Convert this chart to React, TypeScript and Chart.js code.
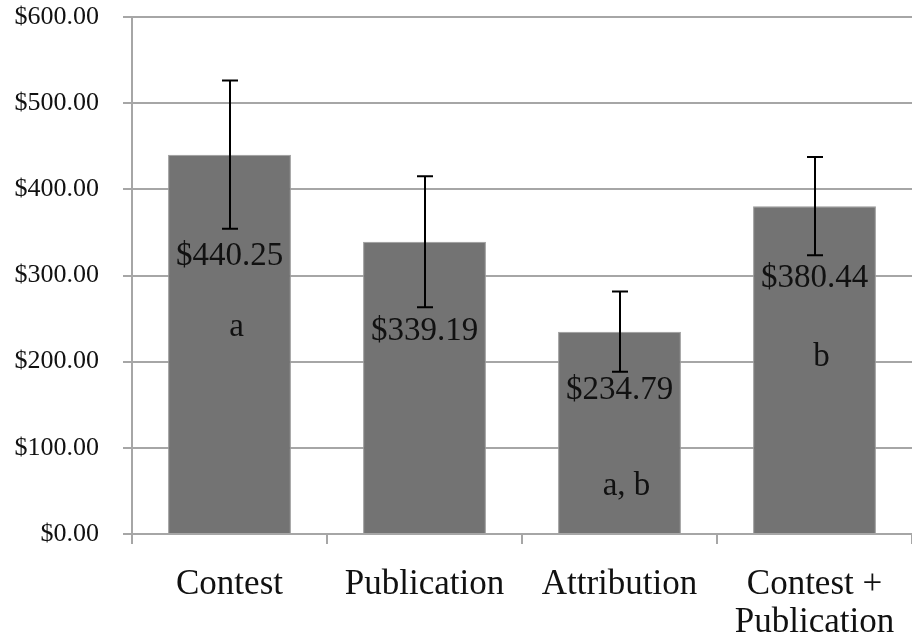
import React, { useEffect, useRef } from 'react';
import { Chart, registerables } from 'chart.js';

Chart.register(...registerables);

const categories: (string | string[])[] = ['Contest', 'Publication', 'Attribution', ['Contest +', 'Publication']];
const meanValues = [440.25, 339.19, 234.79, 380.44];
const errorMargins = [86, 76, 46.5, 57];
const valueLabels = ['$440.25', '$339.19', '$234.79', '$380.44'];
const groupLetters = ['a', '', 'a, b', 'b'];
const yMin = 0;
const yMax = 600;
const yStep = 100;

const FONT = '"Liberation Serif", "Times New Roman", serif';

const annotationPlugin = {
  id: 'barAnnotations',
  afterDatasetsDraw(chart: any, _args: any, opts: any) {
    const { ctx, scales } = chart;
    const y = scales.y;
    const meta = chart.getDatasetMeta(0);
    ctx.save();
    // error bars
    ctx.strokeStyle = '#000';
    ctx.lineWidth = 2;
    meta.data.forEach((bar: any, i: number) => {
      const x = Math.round(bar.x);
      const top = y.getPixelForValue(meanValues[i] + errorMargins[i]);
      const bot = y.getPixelForValue(meanValues[i] - errorMargins[i]);
      const cap = opts.capHalfWidth;
      ctx.beginPath();
      ctx.moveTo(x, top);
      ctx.lineTo(x, bot);
      ctx.moveTo(x - cap, top);
      ctx.lineTo(x + cap, top);
      ctx.moveTo(x - cap, bot);
      ctx.lineTo(x + cap, bot);
      ctx.stroke();
    });
    // value labels
    ctx.fillStyle = '#111';
    ctx.textAlign = 'center';
    ctx.textBaseline = 'middle';
    ctx.font = `${opts.valueFontSize}px ${FONT}`;
    meta.data.forEach((bar: any, i: number) => {
      ctx.fillText(valueLabels[i], bar.x, y.getPixelForValue(opts.valueLabelAt[i]));
    });
    ctx.font = `${opts.letterFontSize}px ${FONT}`;
    meta.data.forEach((bar: any, i: number) => {
      if (!groupLetters[i]) return;
      ctx.fillText(groupLetters[i], bar.x + opts.letterShift, y.getPixelForValue(opts.letterAt[i]));
    });
    ctx.restore();
  },
};

export default function App() {
  const canvasRef = useRef<HTMLCanvasElement | null>(null);

  useEffect(() => {
    if (!canvasRef.current) return;
    const chart = new Chart(canvasRef.current, {
      type: 'bar',
      data: {
        labels: categories as any,
        datasets: [
          {
            data: meanValues,
            backgroundColor: '#737373',
            borderColor: '#9a9a9a',
            borderWidth: 1,
            barPercentage: 0.63,
            categoryPercentage: 1,
          },
        ],
      },
      plugins: [annotationPlugin],
      options: {
        responsive: false,
        animation: false,
        devicePixelRatio: 1,
        layout: { padding: { top: 17, left: 0, right: 0, bottom: 0 } },
        plugins: {
          legend: { display: false },
          tooltip: { enabled: false },
          barAnnotations: {
            capHalfWidth: 8,
            valueFontSize: 33,
            letterFontSize: 33,
            letterShift: 7,
            valueLabelAt: [322, 235, 167, 297],
            letterAt: [240, null, 55, 205],
          },
        } as any,
        scales: {
          x: {
            grid: {
              offset: true,
              drawOnChartArea: false,
              drawTicks: true,
              tickLength: 10,
              color: '#a6a6a6',
              lineWidth: 2,
            },
            border: { color: '#a6a6a6', width: 2 },
            ticks: {
              color: '#111',
              font: { family: FONT, size: 35, lineHeight: 1.08 },
              padding: 22,
              maxRotation: 0,
              autoSkip: false,
            },
            afterFit: (s: any) => {
              s.height = 105;
              s.paddingLeft = 0;
              s.paddingRight = 0;
            },
          },
          y: {
            min: yMin,
            max: yMax,
            grid: {
              color: '#a6a6a6',
              lineWidth: 2,
              tickLength: 9,
            },
            border: { color: '#a6a6a6', width: 2 },
            ticks: {
              stepSize: yStep,
              color: '#111',
              font: { family: FONT, size: 26 },
              padding: 24,
              callback: (v: any) => '$' + Number(v).toFixed(2),
            },
            afterFit: (s: any) => {
              s.width = 132;
              s.paddingTop = 0;
              s.paddingBottom = 0;
            },
          },
        },
      },
    });
    return () => chart.destroy();
  }, []);

  return (
    <div style={{ position: 'fixed', left: 0, top: 0, width: 912, height: 639, background: '#fff' }}>
      <canvas ref={canvasRef} width={912} height={639} style={{ width: 912, height: 639, display: 'block' }} />
    </div>
  );
}
